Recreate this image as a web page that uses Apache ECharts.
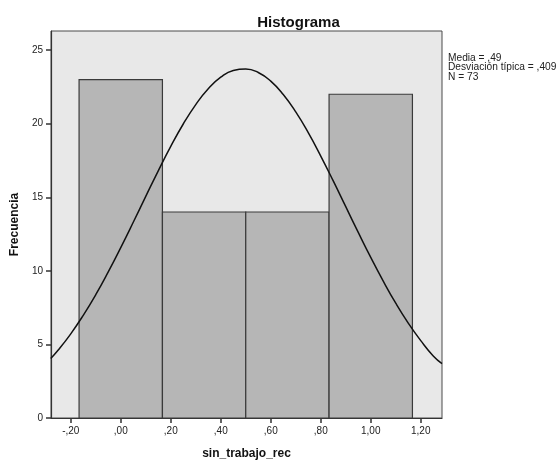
<!DOCTYPE html>
<html>
<head>
<meta charset="utf-8">
<script src="https://cdn.jsdelivr.net/npm/echarts@6/dist/echarts.min.js"></script>
<style>html,body{margin:0;padding:0;background:#fff;}#c{width:559px;height:460px;}</style>
</head>
<body>
<div id="c"></div>
<script>
// Histogram bins (edges) and frequencies
var binStarts = [-0.1667, 0.1667, 0.5, 0.8333];
var binEnds   = [0.1667, 0.5, 0.8333, 1.1667];
var counts    = [23, 14, 14, 22];

// Normal curve points
var curveX = [-0.28, -0.25, -0.2, -0.15, -0.1, -0.05, 0.0, 0.05, 0.1, 0.15, 0.2, 0.25, 0.3, 0.35, 0.4, 0.45,
              0.5, 0.55, 0.6, 0.65, 0.7, 0.75, 0.8, 0.85, 0.9, 0.95, 1.0, 1.05, 1.1, 1.15, 1.2, 1.25, 1.285];
var curveY = [4.05, 4.62, 5.72, 6.98, 8.38, 9.93, 11.58, 13.30, 15.06, 16.80, 18.46, 19.98, 21.30, 22.38, 23.16, 23.62,
              23.72, 23.48, 22.89, 21.98, 20.80, 19.39, 17.80, 16.11, 14.36, 12.61, 10.91, 9.30, 7.80, 6.45, 5.26, 4.22, 3.70];

// Tick values and labels
var xTicks = [-0.2, 0, 0.2, 0.4, 0.6, 0.8, 1.0, 1.2];
var xTickLabels = ['-,20', ',00', ',20', ',40', ',60', ',80', '1,00', '1,20'];
var yTicks = [0, 5, 10, 15, 20, 25];

var statsLines = ['Media = ,49', 'Desviación típica = ,409', 'N = 73'];

var chart = echarts.init(document.getElementById('c'));
var barData = binStarts.map(function (s, i) { return [s, binEnds[i], counts[i]]; });
var lineData = curveX.map(function (x, i) { return [x, curveY[i]]; });

chart.setOption({
  animation: false,
  backgroundColor: '#ffffff',
  title: {
    text: 'Histograma',
    left: 293.5, top: 10, textAlign: 'center',
    textStyle: { fontFamily: 'Liberation Sans', fontSize: 15, fontWeight: 'bold', color: '#111' }
  },
  graphic: [{
    type: 'text', left: 448, top: 53,
    style: {
      text: statsLines.join('\n'),
      font: '10.2px "Liberation Sans"',
      lineHeight: 9.6,
      fill: '#222'
    }
  }],
  grid: {
    left: 51, right: 117, top: 31, bottom: 42,
    outerBoundsMode: 'none', containLabel: false,
    show: true, backgroundColor: '#e8e8e8', borderColor: '#4a4a4a', borderWidth: 1
  },
  xAxis: {
    type: 'value', min: -0.279, max: 1.285,
    name: 'sin_trabajo_rec', nameLocation: 'middle', nameGap: 30,
    nameTextStyle: { fontFamily: 'Liberation Sans', fontSize: 12, fontWeight: 'bold', color: '#111' },
    axisLine: { show: true, onZero: false, lineStyle: { color: '#333', width: 1.2 } },
    axisTick: { show: true, length: 5, lineStyle: { color: '#333', width: 1.5 }, customValues: xTicks },
    axisLabel: {
      customValues: xTicks, color: '#222', fontFamily: 'Liberation Sans', fontSize: 10, margin: 8,
      formatter: function (v) {
        for (var i = 0; i < xTicks.length; i++) { if (Math.abs(xTicks[i] - v) < 1e-6) return xTickLabels[i]; }
        return '';
      }
    },
    splitLine: { show: false }
  },
  yAxis: {
    type: 'value', min: 0, max: 26.3,
    name: 'Frecuencia', nameLocation: 'middle', nameGap: 25, nameRotate: 90,
    nameTextStyle: { fontFamily: 'Liberation Sans', fontSize: 12, fontWeight: 'bold', color: '#111' },
    axisLine: { show: true, onZero: false, lineStyle: { color: '#333', width: 1.2 } },
    axisTick: { show: true, length: 5, lineStyle: { color: '#333', width: 1.5 }, customValues: yTicks },
    axisLabel: { customValues: yTicks, color: '#222', fontFamily: 'Liberation Sans', fontSize: 10, margin: 8 },
    splitLine: { show: false }
  },
  series: [{
    type: 'custom',
    data: barData,
    renderItem: function (params, api) {
      var p0 = api.coord([api.value(0), api.value(2)]);
      var p1 = api.coord([api.value(1), 0]);
      return {
        type: 'rect',
        shape: { x: p0[0], y: p0[1], width: p1[0] - p0[0], height: p1[1] - p0[1] },
        style: { fill: '#b6b6b6', stroke: '#3a3a3a', lineWidth: 1.2 }
      };
    },
    z: 2
  }, {
    type: 'line',
    data: lineData,
    smooth: true,
    showSymbol: false,
    symbol: 'none',
    lineStyle: { color: '#111', width: 1.5 },
    z: 3
  }]
});
</script>
</body>
</html>
